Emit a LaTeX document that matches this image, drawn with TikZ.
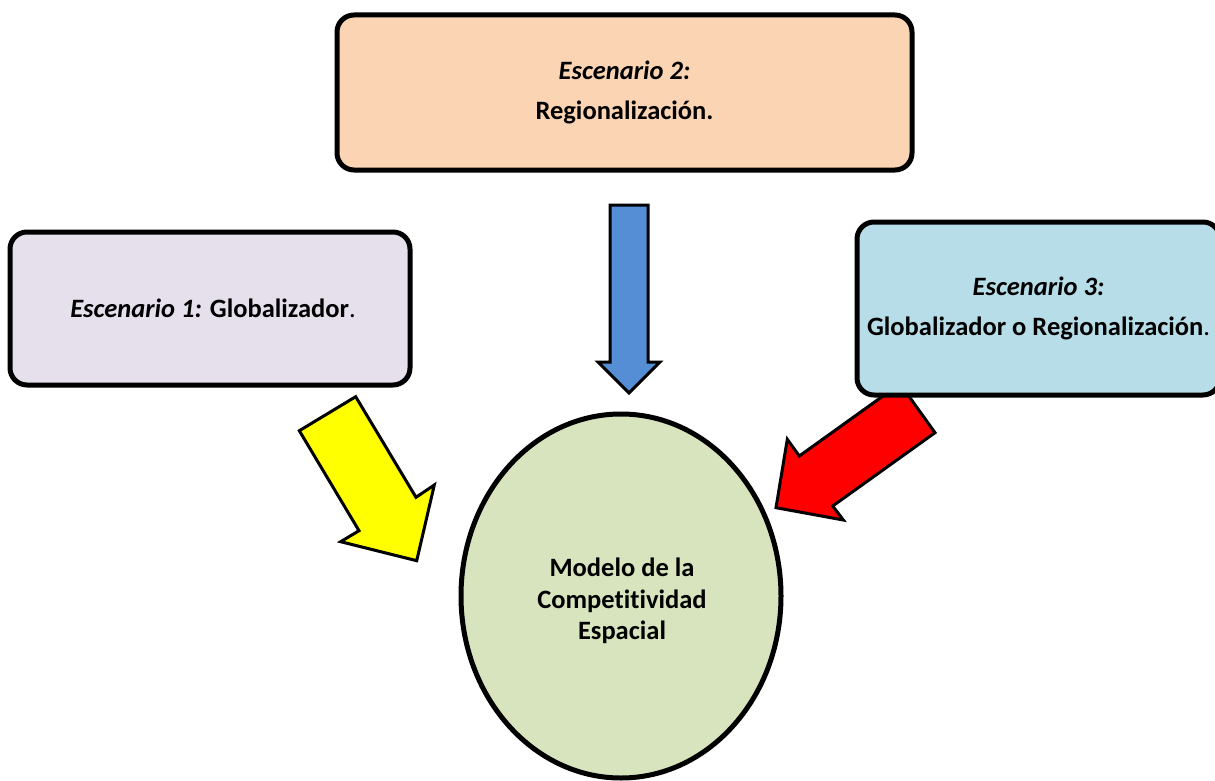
\documentclass[tikz,border=0pt]{standalone}
\usepackage{fontspec}
\setmainfont[Ligatures=NoCommon]{Carlito}
\usetikzlibrary{shapes.geometric}
\definecolor{peach}{HTML}{FBD4B4}
\definecolor{lavender}{HTML}{E5E0EC}
\definecolor{paleblue}{HTML}{B7DDE8}
\definecolor{palegreen}{HTML}{D7E4BD}
\definecolor{arrowblue}{HTML}{558ED5}
\definecolor{arrowyellow}{HTML}{FFFF00}
\definecolor{arrowred}{HTML}{FF0000}
\tikzset{
  scenario/.style={draw=black, line width=5pt, rounded corners=17pt, align=center,
    inner sep=0pt, font=\fontsize{26.5}{31}\selectfont},
  model/.style={draw=black, line width=5pt, ellipse, fill=palegreen, align=center,
    inner sep=0pt, font=\fontsize{26.5}{31.5}\selectfont\bfseries},
  blockarrow/.style={draw=black, line width=3pt, line join=miter}
}
\begin{document}
\begin{tikzpicture}[x=1pt, y=-1pt]
\useasboundingbox (0,0) rectangle (1215,781);

% block arrows (drawn first so the boxes sit on top of their tails)
\draw[blockarrow, fill=arrowblue]
  (610,205) -- (648,205) -- (648,362) -- (660,362) -- (629,393)
  -- (598,362) -- (610,362) -- cycle;
\draw[blockarrow, fill=arrowyellow]
  (299.3,430.7) -- (355.7,396.7) -- (416,497.3) -- (434.3,485)
  -- (416.7,560.7) -- (340.7,541.7) -- (359,530.7) -- cycle;
\draw[blockarrow, fill=arrowred]
  (776,507.7) -- (843.3,520) -- (832.7,506) -- (935,432.7)
  -- (900,383.8) -- (799.3,456) -- (787.3,439.3) -- cycle;

% scenario boxes
\node[scenario, fill=peach, minimum width=575pt, minimum height=155pt] (esc2)
  at (624.5,92.5) {\textbf{\textit{Escenario 2:}}\\[9pt]\textbf{Regionalización.}};
\node[scenario, fill=lavender, minimum width=400pt, minimum height=153pt] (esc1)
  at (210,308.5) {\hspace*{6pt}\textbf{\textit{Escenario 1:} Globalizador}.};
\node[scenario, fill=paleblue, minimum width=363pt, minimum height=173pt] (esc3)
  at (1038.5,308.5) {\textbf{\textit{Escenario 3:}}\\[9pt]\textbf{Globalizador o Regionalización}.};

% central model
\node[model, minimum width=320pt, minimum height=364pt] (modelo)
  at (621,596) {};
\node[font=\fontsize{26.5}{31.5}\selectfont\bfseries, align=center, inner sep=0pt]
  (modelotext) at (622,601) {Modelo de la\\Competitividad\\Espacial};
\end{tikzpicture}
\end{document}
